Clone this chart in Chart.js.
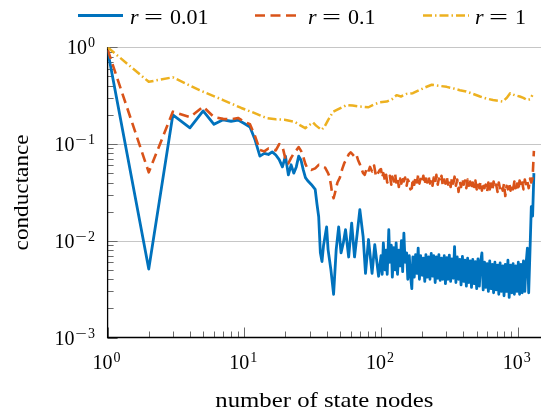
<!DOCTYPE html>
<html>
<head>
<meta charset="utf-8">
<script src="https://cdn.jsdelivr.net/npm/chart.js@4.4.1/dist/chart.umd.min.js"></script>
<style>
  html, body { margin: 0; padding: 0; background: #fff; }
  #chart { display: block; }
</style>
</head>
<body>
<canvas id="chart" width="543" height="413"></canvas>
<script>
// shared node counts for the noisy right-hand part of the r = 0.01 and r = 0.1 curves
const denseNodes = [
  100, 102, 104, 107, 109, 111, 114, 116, 119, 121,
  124, 127, 129, 132, 135, 138, 141, 144, 147, 150,
  154, 157, 161, 164, 168, 171, 175, 179, 183, 187,
  191, 195, 200, 204, 209, 213, 218, 223, 228, 233,
  238, 243, 249, 254, 260, 265, 271, 277, 283, 290,
  296, 303, 309, 316, 323, 330, 338, 345, 353, 361,
  369, 377, 385, 394, 403, 411, 421, 430, 439, 449,
  459, 469, 480, 490, 501, 512, 524, 535, 547, 559,
  572, 584, 597, 610, 624, 638, 652, 666, 681, 696,
  712, 727, 743, 760, 777, 794, 811, 829, 848, 866,
  885, 905, 925, 945, 966, 988, 1010, 1032, 1055, 1078,
  1102, 1127, 1151, 1177, 1203, 1230, 1257, 1285, 1313
];

// r = 0.01
const blueHeadNodes = [
  1, 2, 3, 4, 5, 6, 7, 8, 9, 10,
  11, 12, 13, 14, 15, 16, 17, 18, 19, 20,
  21, 22, 23, 24, 25, 26, 27, 28, 29, 31,
  33, 34, 35, 36, 37, 38, 40, 41, 43, 45,
  47, 49, 51, 53, 55, 58, 61, 64, 67, 70,
  74, 77, 81, 86, 90, 96
];
const blueHeadValues = [
  0.93, 0.0051, 0.20, 0.147, 0.22, 0.16, 0.178, 0.172, 0.177, 0.163,
  0.15, 0.11, 0.075, 0.08, 0.078, 0.083, 0.077, 0.069, 0.058, 0.075,
  0.048, 0.061, 0.05, 0.058, 0.075, 0.068, 0.054, 0.045, 0.042, 0.038,
  0.034, 0.024, 0.0177, 0.0075, 0.0061, 0.009, 0.0139, 0.0081, 0.005, 0.0028,
  0.0081, 0.0139, 0.0075, 0.0095, 0.013, 0.0068, 0.0152, 0.0068, 0.012, 0.021,
  0.011, 0.0046, 0.0103, 0.0046, 0.0091, 0.0043
];
const blueTailValues = [
  0.0070, 0.0045, 0.0095, 0.0050, 0.0080, 0.0045, 0.0130, 0.0060, 0.0090, 0.0042,
  0.0085, 0.0050, 0.0095, 0.0045, 0.0080, 0.0055, 0.0100, 0.0048, 0.0120, 0.0060,
  0.0075, 0.0040, 0.0070, 0.0045, 0.0032, 0.0068, 0.0042, 0.0072, 0.0046, 0.0084,
  0.0040, 0.0070, 0.0044, 0.0066, 0.0038, 0.0072, 0.0042, 0.0068, 0.0040, 0.0074,
  0.0043, 0.0070, 0.0037, 0.0068, 0.0041, 0.0072, 0.0039, 0.0066, 0.0040, 0.0070,
  0.0036, 0.0067, 0.0040, 0.0071, 0.0038, 0.0065, 0.0041, 0.0087, 0.0037, 0.0068,
  0.0040, 0.0064, 0.0035, 0.0069, 0.0038, 0.0063, 0.0034, 0.0066, 0.0037, 0.0062,
  0.0033, 0.0064, 0.0036, 0.0061, 0.0032, 0.0065, 0.0034, 0.0060, 0.0075, 0.0031,
  0.0060, 0.0033, 0.0058, 0.0030, 0.0062, 0.0032, 0.0057, 0.0029, 0.0060, 0.0031,
  0.0056, 0.0028, 0.0059, 0.0030, 0.0055, 0.0027, 0.0057, 0.0030, 0.0063, 0.0026,
  0.0056, 0.0029, 0.0058, 0.0028, 0.0055, 0.0030, 0.0060, 0.0028, 0.0057, 0.0029,
  0.0062, 0.0030, 0.0058, 0.0084, 0.0029, 0.0080, 0.0225, 0.0180, 0.0500
];

// r = 0.1
const orangeHeadNodes = [
  1, 2, 3, 4, 5, 6, 7, 8, 9, 10,
  11, 12, 13, 14, 15, 16, 17, 18, 19, 20,
  21, 22, 23, 24, 25, 26, 27, 28, 29, 31,
  33, 35, 37, 39, 41, 42, 43, 44, 45, 46,
  48, 50, 52, 54, 56, 58, 60, 62, 64, 66,
  68, 70, 72, 74, 76, 78, 80, 83, 86, 89,
  92, 95, 98
];
const orangeHeadValues = [
  0.95, 0.051, 0.216, 0.19, 0.243, 0.19, 0.182, 0.18, 0.186, 0.17,
  0.16, 0.12, 0.087, 0.084, 0.09, 0.088, 0.086, 0.1, 0.095, 0.07,
  0.063, 0.072, 0.08, 0.086, 0.093, 0.085, 0.074, 0.062, 0.056, 0.054,
  0.056, 0.061, 0.059, 0.057, 0.05, 0.046, 0.038, 0.03, 0.0275, 0.031,
  0.04, 0.045, 0.055, 0.064, 0.07, 0.078, 0.082, 0.078, 0.074, 0.078,
  0.068, 0.062, 0.055, 0.05, 0.048, 0.054, 0.05, 0.058, 0.052, 0.06,
  0.046, 0.05, 0.054
];
const orangeTailValues = [
  0.055, 0.045, 0.050, 0.042, 0.048, 0.040, 0.043, 0.047, 0.038, 0.046,
  0.041, 0.049, 0.040, 0.045, 0.036, 0.044, 0.039, 0.047, 0.041, 0.045,
  0.037, 0.043, 0.040, 0.034, 0.035, 0.044, 0.038, 0.046, 0.040, 0.048,
  0.039, 0.045, 0.041, 0.047, 0.038, 0.044, 0.040, 0.046, 0.039, 0.043,
  0.037, 0.045, 0.040, 0.048, 0.038, 0.044, 0.041, 0.047, 0.037, 0.043,
  0.039, 0.046, 0.038, 0.042, 0.036, 0.044, 0.039, 0.046, 0.037, 0.043,
  0.032, 0.041, 0.036, 0.044, 0.038, 0.042, 0.035, 0.043, 0.037, 0.041,
  0.034, 0.040, 0.036, 0.042, 0.034, 0.039, 0.035, 0.041, 0.033, 0.040,
  0.035, 0.038, 0.032, 0.040, 0.034, 0.039, 0.033, 0.041, 0.035, 0.038,
  0.032, 0.040, 0.034, 0.037, 0.033, 0.039, 0.029, 0.037, 0.034, 0.040,
  0.033, 0.038, 0.034, 0.041, 0.035, 0.039, 0.033, 0.042, 0.036, 0.040,
  0.034, 0.043, 0.037, 0.041, 0.035, 0.044, 0.040, 0.045, 0.085
];

// r = 1
const yellowNodes = [
  1, 2, 3, 4.7, 7, 9.5, 11.8, 14.5, 17, 19.7,
  23.3, 25.5, 27.9, 29.5, 31.8, 33.5, 36.7, 38.5, 41, 44.6,
  47.5, 52, 56, 62, 68, 74, 81, 88, 98, 110,
  120, 130, 140, 154, 171, 190, 210, 235, 265, 302,
  340, 377, 420, 470, 530, 590, 660, 720, 780, 830,
  880, 950, 1035, 1100, 1170, 1230, 1280
];
const yellowValues = [
  1, 0.44, 0.49, 0.36, 0.285, 0.236, 0.21, 0.186, 0.18, 0.178,
  0.17, 0.157, 0.146, 0.155, 0.167, 0.155, 0.14, 0.15, 0.177, 0.215,
  0.225, 0.24, 0.253, 0.25, 0.245, 0.243, 0.24, 0.255, 0.27, 0.275,
  0.29, 0.32, 0.31, 0.33, 0.335, 0.36, 0.385, 0.41, 0.40, 0.39,
  0.375, 0.36, 0.35, 0.33, 0.31, 0.295, 0.285, 0.28, 0.275, 0.30,
  0.335, 0.32, 0.31, 0.30, 0.285, 0.29, 0.32
];

const rValues = ["0.01", "0.1", "1"];
const xDecades = [0, 1, 2, 3];
const yDecades = [-3, -2, -1, 0];
const xLabel = "number of state nodes";
const yLabel = "conductance";

const COLORS = ["#0072bd", "#d95319", "#edb120"];
const DASHES = [[], [10, 5.5], [9, 3, 1.5, 3]];
const WIDTHS = [2.8, 2.6, 2.5];
const SERIF = '"Liberation Serif", "Times New Roman", serif';

const toPoints = (xs, ys) => xs.map((x, i) => ({ x, y: ys[i] }));

const seriesData = [
  toPoints(blueHeadNodes.concat(denseNodes), blueHeadValues.concat(blueTailValues)),
  toPoints(orangeHeadNodes.concat(denseNodes), orangeHeadValues.concat(orangeTailValues)),
  toPoints(yellowNodes, yellowValues)
];

function line(ctx, x1, y1, x2, y2) {
  ctx.beginPath();
  ctx.moveTo(x1, y1);
  ctx.lineTo(x2, y2);
  ctx.stroke();
}

// "10" with a raised exponent; the minus is widened a little like a math minus
function drawPower(ctx, exp, x, baseline, align) {
  ctx.font = "20px " + SERIF;
  const wBase = ctx.measureText("10").width;
  ctx.font = "14px " + SERIF;
  const digit = String(Math.abs(exp));
  const wMinus = exp < 0 ? ctx.measureText("\u2212").width * 1.45 + 1 : 0;
  const wDigit = ctx.measureText(digit).width;
  const total = wBase + 1 + wMinus + wDigit;
  const left = align === "center" ? x - total / 2 : x - total;
  ctx.textAlign = "left";
  ctx.font = "20px " + SERIF;
  ctx.fillText("10", left, baseline);
  ctx.font = "14px " + SERIF;
  let sx = left + wBase + 1;
  const sb = baseline - 7;
  if (exp < 0) {
    ctx.save();
    ctx.translate(sx, sb);
    ctx.scale(1.45, 1);
    ctx.fillText("\u2212", 0, 0);
    ctx.restore();
    sx += wMinus;
  }
  ctx.fillText(digit, sx, sb);
}

// text stretched to a given width, centred on (cx, baseline)
function drawFitted(ctx, text, cx, baseline, width) {
  const w = ctx.measureText(text).width;
  ctx.save();
  ctx.translate(cx, baseline);
  ctx.scale(width / w, 1);
  ctx.textAlign = "center";
  ctx.fillText(text, 0, 0);
  ctx.restore();
}

const frame = {
  id: "frame",
  beforeDatasetsDraw(chart) {
    const { ctx, chartArea: a, scales: { x, y } } = chart;
    ctx.save();

    // horizontal grid at each decade
    ctx.strokeStyle = "#c6c6c6";
    ctx.lineWidth = 1;
    yDecades.forEach(d => {
      if (d === yDecades[0]) return;
      const py = Math.round(y.getPixelForValue(Math.pow(10, d))) + 0.5;
      line(ctx, a.left, py, a.right, py);
    });

    // tick marks, drawn inward
    ctx.strokeStyle = "#6a6a6a";
    yDecades.forEach(d => {
      for (let m = 1; m <= 9; m++) {
        const v = m * Math.pow(10, d);
        if (v > 1.0001) break;
        const py = Math.round(y.getPixelForValue(v)) + 0.5;
        line(ctx, a.left, py, a.left + (m === 1 ? 10 : 6), py);
      }
    });
    xDecades.forEach(d => {
      for (let m = 1; m <= 9; m++) {
        const v = m * Math.pow(10, d);
        if (v > x.max) break;
        const px = Math.round(x.getPixelForValue(v)) + 0.5;
        line(ctx, px, a.bottom, px, a.bottom - (m === 1 ? 10 : 6));
      }
    });

    // axis lines
    ctx.strokeStyle = "#000";
    ctx.lineWidth = 1.3;
    line(ctx, a.left, a.top, a.left, a.bottom + 0.6);
    line(ctx, a.left - 0.6, a.bottom, a.right, a.bottom);
    ctx.restore();
  },
  afterDraw(chart) {
    const { ctx, chartArea: a, scales: { x, y } } = chart;
    ctx.save();
    ctx.fillStyle = "#000";
    ctx.textBaseline = "alphabetic";

    // tick labels
    yDecades.forEach(d => {
      drawPower(ctx, d, 95, y.getPixelForValue(Math.pow(10, d)) + 7, "right");
    });
    xDecades.forEach(d => {
      drawPower(ctx, d, x.getPixelForValue(Math.pow(10, d)) - 1, 368.5, "center");
    });

    // axis titles
    ctx.font = "22px " + SERIF;
    drawFitted(ctx, xLabel, (a.left + a.right) / 2, 406.5, 218);
    ctx.save();
    ctx.translate(28, (a.top + a.bottom) / 2);
    ctx.rotate(-Math.PI / 2);
    drawFitted(ctx, yLabel, 0, 0, 116);
    ctx.restore();

    // legend
    const entries = [
      { x0: 78, x1: 123, tx: 130 },
      { x0: 255, x1: 296, tx: 308 },
      { x0: 423, x1: 469, tx: 475 }
    ];
    entries.forEach((e, i) => {
      ctx.save();
      ctx.strokeStyle = COLORS[i];
      ctx.lineWidth = WIDTHS[i];
      ctx.setLineDash(DASHES[i]);
      line(ctx, e.x0, 15.5, e.x1, 15.5);
      ctx.restore();

      ctx.textAlign = "left";
      ctx.font = "italic 22px " + SERIF;
      ctx.fillText("r", e.tx, 23.5);
      ctx.font = "22px " + SERIF;
      const wEq = ctx.measureText("=").width;
      ctx.save();
      ctx.translate(e.tx + 14, 23.5);
      ctx.scale(19 / wEq, 1);
      ctx.fillText("=", 0, 0);
      ctx.restore();
      ctx.fillText(rValues[i], e.tx + 40, 23.5);
    });
    ctx.restore();
  }
};

new Chart(document.getElementById("chart"), {
  type: "line",
  data: {
    datasets: seriesData.map((pts, i) => ({
      label: "r = " + rValues[i],
      data: pts,
      borderColor: COLORS[i],
      borderDash: DASHES[i],
      borderWidth: WIDTHS[i],
      order: 3 - i
    }))
  },
  options: {
    responsive: false,
    animation: false,
    devicePixelRatio: 1,
    layout: { padding: { left: 107.6, top: 47.3, right: 2, bottom: 75.5 } },
    elements: {
      point: { radius: 0 },
      line: { tension: 0, fill: false, borderJoinStyle: "round" }
    },
    plugins: {
      legend: { display: false },
      tooltip: { enabled: false }
    },
    scales: {
      x: { type: "logarithmic", min: 1, max: 1480, display: false },
      y: { type: "logarithmic", min: 0.001, max: 1, display: false }
    }
  },
  plugins: [frame]
});
</script>
</body>
</html>
